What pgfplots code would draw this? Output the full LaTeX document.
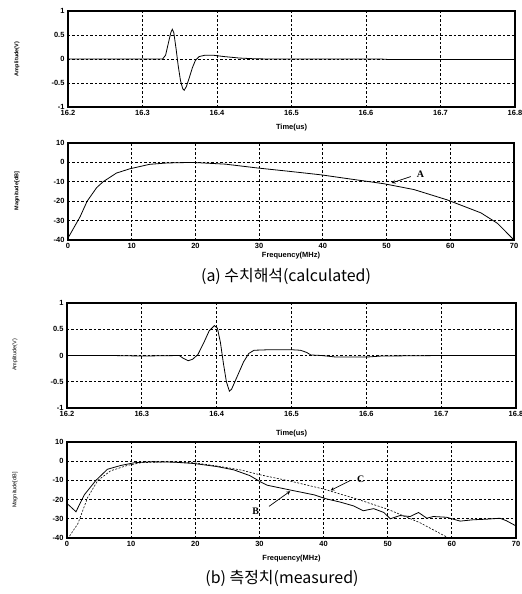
\documentclass[border=0pt]{standalone}
\usepackage{fontspec}
\setmainfont{Liberation Sans}
\newfontfamily\cjk{Noto Sans CJK KR}
\newfontfamily\lab{Liberation Serif}
\usepackage{pgfplots}
\pgfplotsset{compat=1.18}

\pgfplotsset{
  scope/.style={
    scale only axis,
    axis line style={line width=1.4pt},
    grid=major,
    major grid style={black, line width=0.9pt, dash pattern=on 2.5pt off 2pt},
    major tick length=0pt,
    tick label style={font=\fontsize{7.5}{7.5}\selectfont\bfseries},
    /pgf/number format/assume math mode=true,
    xlabel style={font=\fontsize{7.5}{7.5}\selectfont\bfseries, yshift=-1pt},
    axis on top,
  },
  timeax/.style={scope,
    xmin=16.2, xmax=16.8, ymin=-1, ymax=1,
    xtick={16.2,16.3,16.4,16.5,16.6,16.7,16.8},
    xticklabels={16.2,16.3,16.4,16.5,16.6,16.7,16.8},
    ytick={-1,-0.5,0,0.5,1},
    yticklabels={-1,-0.5,0,0.5,1},
    xlabel={Time(us)},
  },
  freqax/.style={scope,
    xmin=0, xmax=70, ymin=-40, ymax=10,
    xtick={0,10,...,70},
    ytick={-40,-30,...,10},
    yticklabels={-40,-30,-20,-10,0,10},
    xlabel={Frequency(MHz)},
  },
}

\begin{document}
\begin{tikzpicture}[x=1bp, y=1bp]
\path[use as bounding box] (0,0) rectangle (522,-594);

% (a) calculated, time
\begin{axis}[timeax, at={(68bp,-11bp)}, anchor=north west, width=447bp, height=96bp]
\addplot[black, line width=0.8pt] coordinates {
(16.2,0) (16.327,0) (16.331,0.08) (16.335,0.35) (16.338,0.55) (16.340,0.62)
(16.342,0.55) (16.345,0.22) (16.348,-0.15) (16.351,-0.45) (16.354,-0.62)
(16.356,-0.65) (16.359,-0.57) (16.363,-0.38) (16.367,-0.18) (16.371,-0.03)
(16.376,0.05) (16.384,0.08) (16.394,0.08) (16.41,0.05) (16.43,0.02)
(16.45,0.005) (16.47,0) (16.62,0) (16.63,-0.01) (16.8,-0.01)
};
\end{axis}
\node[rotate=90, font=\fontsize{5.5}{5.5}\selectfont\bfseries] at (17,-59) {Amplitude(V)};

% (a) calculated, spectrum
\begin{axis}[freqax, at={(68bp,-143bp)}, anchor=north west, width=446bp, height=97bp,
  xlabel style={yshift=5pt}]
\addplot[black, line width=0.8pt] coordinates {
(0,-39) (1.9,-28) (3,-20) (4.5,-13) (5.5,-10) (7.6,-5.5) (9.7,-3.3)
(12.8,-1) (15.5,-0.3) (19.5,0) (24.7,-0.9) (29.8,-2.9) (35,-4.7)
(39.7,-6.4) (44.4,-8.6) (49.6,-11) (54.3,-14) (59.5,-19.3) (64.8,-26)
(67.4,-31.4) (70,-40)
};
\draw[->, >=stealth, line width=0.7pt] (axis cs:53.8,-7.3) -- (axis cs:50.8,-10.6);
\node[font=\lab\bfseries\fontsize{10}{10}\selectfont] at (axis cs:55.3,-6) {A};
\end{axis}
\node[rotate=90, font=\fontsize{5.5}{5.5}\selectfont\bfseries] at (17,-191) {Magnitude[dB]};
\node[font=\cjk\fontsize{16}{16}\selectfont] at (286,-276) {(a) 수치해석(calculated)};

% (b) measured, time
\begin{axis}[timeax, at={(67bp,-303bp)}, anchor=north west, width=449bp, height=105bp,
  xlabel style={yshift=-5pt}]
\addplot[black, line width=0.8pt] coordinates {
(16.2,0) (16.26,0) (16.3,-0.01) (16.35,0) (16.355,-0.05) (16.362,-0.1)
(16.368,-0.07) (16.375,0.02) (16.383,0.25) (16.39,0.47) (16.397,0.57)
(16.401,0.52) (16.405,0.25) (16.409,-0.15) (16.413,-0.5) (16.417,-0.68)
(16.42,-0.64) (16.428,-0.38) (16.436,-0.12) (16.443,0.04) (16.45,0.1)
(16.47,0.11) (16.5,0.11) (16.512,0.1) (16.52,0.06) (16.526,0.01)
(16.54,0) (16.56,-0.03) (16.6,-0.03) (16.62,-0.01) (16.7,0) (16.8,0)
};
\end{axis}
\node[rotate=90, font=\fontsize{5.5}{5.5}\selectfont] at (15,-355) {Amplitude(V)};

% (b) measured, spectrum
\begin{axis}[freqax, at={(67bp,-442bp)}, anchor=north west, width=449bp, height=96bp]
\addplot[black, line width=0.8pt] coordinates {
(0,-22) (1.4,-26.3) (2.7,-17.5) (4.5,-10) (6.3,-4.2) (8.4,-2.2) (10.5,-0.8)
(13,-0.3) (16.7,-0.5) (19.8,-1.2) (23.4,-2.8) (26,-4.5) (28.5,-7.5)
(30.2,-10.8) (31.2,-12.5) (34.8,-15) (38.5,-17.5) (40.3,-19.5) (42.6,-21.3)
(44.7,-23.3) (46.2,-25.8) (47.8,-24.7) (49.4,-26.7) (50.4,-30) (51.9,-28.3)
(53.5,-28.8) (54.8,-26.7) (56.1,-29.7) (57.1,-28.8) (59.2,-29.2) (61.3,-31.2)
(63.3,-30.5) (65.4,-30.2) (67.5,-29.7) (68.5,-31) (70,-33.7)
};
\addplot[black, line width=0.6pt, dash pattern=on 2pt off 1.5pt] coordinates {
(0.4,-39) (1.7,-32.5) (3.2,-19) (4.8,-10) (6.8,-5) (9.4,-2.2) (11.5,-0.8)
(15.7,-0.3) (19.8,-0.8) (23.4,-2.5) (27,-4.5) (30,-7) (35,-10.5) (40,-14.5)
(45,-19.5) (50,-25) (55,-32) (59.5,-40)
};
\draw[->, >=stealth, line width=0.7pt] (axis cs:31.5,-23.5) -- (axis cs:34.8,-15.6);
\node[font=\lab\bfseries\fontsize{10}{10}\selectfont] at (axis cs:29.4,-26) {B};
\draw[->, >=stealth, line width=0.7pt] (axis cs:44.2,-10) -- (axis cs:41.1,-15.2);
\node[font=\lab\bfseries\fontsize{10}{10}\selectfont] at (axis cs:45.8,-9.2) {C};
\end{axis}
\node[rotate=90, font=\fontsize{5.5}{5.5}\selectfont] at (15,-490) {Magnitude[dB]};
\node[font=\cjk\fontsize{16}{16}\selectfont] at (282,-578) {(b) 측정치(measured)};
\end{tikzpicture}
\end{document}
